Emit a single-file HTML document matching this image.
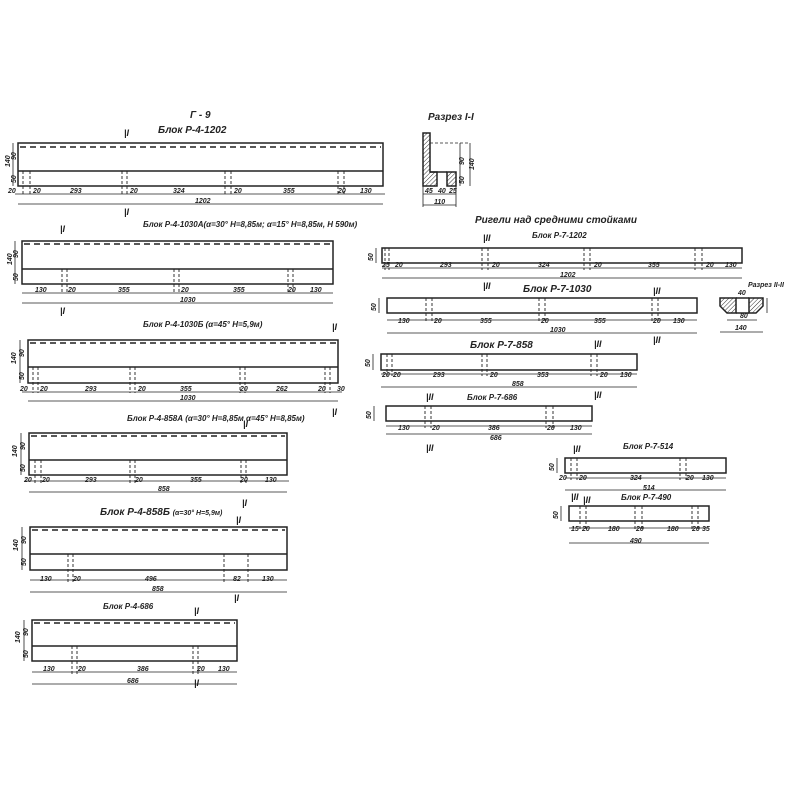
<!DOCTYPE html>
<html><head><meta charset="utf-8"><style>
html,body{margin:0;padding:0;background:#fff}
svg{display:block}
text{font-family:"Liberation Sans","DejaVu Sans",sans-serif;font-style:italic;fill:#222}
.t{font-size:10px;font-weight:bold}
.s{font-size:7px;font-weight:bold}
.r{font-size:8px;font-weight:bold}
</style></head><body>
<svg width="800" height="800" viewBox="0 0 800 800" xmlns="http://www.w3.org/2000/svg">
<defs>
<pattern id="h" width="3" height="3" patternUnits="userSpaceOnUse" patternTransform="rotate(45)"><line x1="0" y1="0" x2="0" y2="3" stroke="#333" stroke-width="1"/></pattern>
</defs>
<g stroke="#222" stroke-width="1.5" fill="none">
<!-- B1 -->
<rect x="18" y="143" width="365" height="43"/><line x1="18" y1="171" x2="383" y2="171"/>
<line x1="20" y1="147" x2="381" y2="147" stroke-dasharray="6,4"/>
<line x1="15" y1="194" x2="385" y2="194" stroke-width=".8"/><line x1="18" y1="204" x2="383" y2="204" stroke-width=".8"/>
<g stroke-dasharray="3,2" stroke-width=".9"><path d="M23 171V196M30 171V196M122 171V196M127 171V196M225 171V196M231 171V196M338 171V196M344 171V196"/></g>
<line x1="13" y1="143" x2="13" y2="186" stroke-width=".8"/>
<!-- B2 -->
<rect x="22" y="241" width="311" height="43"/><line x1="22" y1="269" x2="333" y2="269"/>
<line x1="24" y1="244" x2="331" y2="244" stroke-dasharray="6,4"/>
<line x1="22" y1="293" x2="333" y2="293" stroke-width=".8"/><line x1="22" y1="303" x2="333" y2="303" stroke-width=".8"/>
<g stroke-dasharray="3,2" stroke-width=".9"><path d="M62 269V294M67 269V294M174 269V294M179 269V294M288 269V294M293 269V294"/></g>
<line x1="15" y1="241" x2="15" y2="284" stroke-width=".8"/>
<!-- B3 -->
<rect x="28" y="340" width="310" height="43"/><line x1="28" y1="367" x2="338" y2="367"/>
<line x1="30" y1="343" x2="336" y2="343" stroke-dasharray="6,4"/>
<line x1="22" y1="392" x2="342" y2="392" stroke-width=".8"/><line x1="28" y1="401" x2="338" y2="401" stroke-width=".8"/>
<g stroke-dasharray="3,2" stroke-width=".9"><path d="M33 367V393M38 367V393M130 367V393M135 367V393M240 367V393M245 367V393M325 367V393M330 367V393"/></g>
<line x1="20" y1="340" x2="20" y2="383" stroke-width=".8"/>
<!-- B4 -->
<rect x="29" y="433" width="258" height="42"/><line x1="29" y1="460" x2="287" y2="460"/>
<line x1="31" y1="436" x2="285" y2="436" stroke-dasharray="6,4"/>
<line x1="25" y1="481" x2="289" y2="481" stroke-width=".8"/><line x1="29" y1="492" x2="287" y2="492" stroke-width=".8"/>
<g stroke-dasharray="3,2" stroke-width=".9"><path d="M35 460V483M41 460V483M130 460V483M135 460V483M241 460V483M246 460V483"/></g>
<line x1="21" y1="433" x2="21" y2="475" stroke-width=".8"/>
<!-- B5 -->
<rect x="30" y="527" width="257" height="43"/><line x1="30" y1="554" x2="287" y2="554"/>
<line x1="32" y1="530" x2="285" y2="530" stroke-dasharray="6,4"/>
<line x1="30" y1="580" x2="287" y2="580" stroke-width=".8"/><line x1="30" y1="592" x2="287" y2="592" stroke-width=".8"/>
<g stroke-dasharray="3,2" stroke-width=".9"><path d="M68 554V582M73 554V582M224 554V582M248 554V582"/></g>
<line x1="22" y1="527" x2="22" y2="570" stroke-width=".8"/>
<!-- B6 -->
<rect x="32" y="620" width="205" height="41"/><line x1="32" y1="646" x2="237" y2="646"/>
<line x1="34" y1="623" x2="235" y2="623" stroke-dasharray="6,4"/>
<line x1="32" y1="672" x2="237" y2="672" stroke-width=".8"/><line x1="32" y1="684" x2="237" y2="684" stroke-width=".8"/>
<g stroke-dasharray="3,2" stroke-width=".9"><path d="M72 646V674M77 646V674M193 646V674M198 646V674"/></g>
<line x1="24" y1="620" x2="24" y2="661" stroke-width=".8"/>
<!-- R1 -->
<rect x="382" y="248" width="360" height="15"/>
<line x1="382" y1="268" x2="742" y2="268" stroke-width=".8"/><line x1="382" y1="278" x2="742" y2="278" stroke-width=".8"/>
<g stroke-dasharray="3,2" stroke-width=".9"><path d="M385 248V270M389 248V270M482 248V270M488 248V270M584 248V270M590 248V270M695 248V270M702 248V270"/></g>
<line x1="376" y1="248" x2="376" y2="263" stroke-width=".8"/>
<!-- R2 -->
<rect x="387" y="298" width="310" height="15"/>
<line x1="387" y1="320" x2="697" y2="320" stroke-width=".8"/><line x1="387" y1="333" x2="697" y2="333" stroke-width=".8"/>
<g stroke-dasharray="3,2" stroke-width=".9"><path d="M426 298V322M432 298V322M539 298V322M545 298V322M652 298V322M658 298V322"/></g>
<line x1="379" y1="298" x2="379" y2="313" stroke-width=".8"/>
<!-- R3 -->
<rect x="381" y="354" width="256" height="16"/>
<line x1="381" y1="374" x2="637" y2="374" stroke-width=".8"/><line x1="381" y1="387" x2="637" y2="387" stroke-width=".8"/>
<g stroke-dasharray="3,2" stroke-width=".9"><path d="M387 354V376M392 354V376M482 354V376M487 354V376M591 354V376M597 354V376"/></g>
<line x1="373" y1="354" x2="373" y2="370" stroke-width=".8"/>
<!-- R4 -->
<rect x="386" y="406" width="206" height="15"/>
<line x1="386" y1="426" x2="592" y2="426" stroke-width=".8"/><line x1="386" y1="434" x2="592" y2="434" stroke-width=".8"/>
<g stroke-dasharray="3,2" stroke-width=".9"><path d="M425 406V428M431 406V428M546 406V428M553 406V428"/></g>
<line x1="374" y1="406" x2="374" y2="421" stroke-width=".8"/>
<!-- R5 -->
<rect x="565" y="458" width="161" height="15"/>
<line x1="565" y1="478" x2="726" y2="478" stroke-width=".8"/><line x1="565" y1="490" x2="726" y2="490" stroke-width=".8"/>
<g stroke-dasharray="3,2" stroke-width=".9"><path d="M571 458V480M577 458V480M680 458V480M686 458V480"/></g>
<line x1="557" y1="458" x2="557" y2="473" stroke-width=".8"/>
<!-- R6 -->
<rect x="569" y="506" width="140" height="15"/>
<line x1="569" y1="528" x2="709" y2="528" stroke-width=".8"/><line x1="569" y1="543" x2="709" y2="543" stroke-width=".8"/>
<g stroke-dasharray="3,2" stroke-width=".9"><path d="M580 506V530M586 506V530M635 506V530M642 506V530M692 506V530M698 506V530"/></g>
<line x1="561" y1="506" x2="561" y2="521" stroke-width=".8"/>
<!-- Section I-I -->
<path d="M423 133H430V172H437V186H423Z" fill="url(#h)"/>
<rect x="447" y="172" width="9" height="14" fill="url(#h)"/>
<line x1="430" y1="172" x2="447" y2="172"/>
<line x1="430" y1="143" x2="470" y2="143" stroke-dasharray="3,2" stroke-width=".8"/>
<line x1="460" y1="143" x2="460" y2="186" stroke-width=".8"/><line x1="470" y1="143" x2="470" y2="186" stroke-width=".8"/>
<line x1="423" y1="194" x2="456" y2="194" stroke-width=".8"/><line x1="423" y1="205" x2="456" y2="205" stroke-width=".8"/>
<line x1="423" y1="186" x2="423" y2="207" stroke-width=".8"/><line x1="456" y1="186" x2="456" y2="207" stroke-width=".8"/>
<!-- Section II-II -->
<path d="M720 298H736V313H727L720 306Z" fill="url(#h)"/>
<path d="M749 298H763V306L756 313H749Z" fill="url(#h)"/>
<line x1="736" y1="298" x2="749" y2="298"/><line x1="736" y1="313" x2="749" y2="313"/>
<line x1="727" y1="320" x2="757" y2="320" stroke-width=".8"/><line x1="720" y1="332" x2="763" y2="332" stroke-width=".8"/>
<line x1="767" y1="298" x2="767" y2="313" stroke-width=".8"/>
</g>
<!-- titles -->
<text class="t" x="190" y="118">Г - 9</text>
<text class="t" x="158" y="133">Блок Р-4-1202</text>
<text class="r" x="143" y="227">Блок Р-4-1030А(α=30° H=8,85м; α=15° H=8,85м, H 590м)</text>
<text class="r" x="143" y="327">Блок Р-4-1030Б (α=45° H=5,9м)</text>
<text class="r" x="127" y="421">Блок Р-4-858А (α=30° H=8,85м α=45° H=8,85м)</text>
<text class="t" x="100" y="515">Блок Р-4-858Б <tspan class="s">(α=30° H=5,9м)</tspan></text>
<text class="r" x="103" y="609">Блок Р-4-686</text>
<text class="t" x="428" y="120">Разрез I-I</text>
<text class="t" x="475" y="223">Ригели над средними стойками</text>
<text class="r" x="532" y="238">Блок Р-7-1202</text>
<text class="t" x="523" y="292">Блок Р-7-1030</text>
<text class="s" x="748" y="287">Разрез II-II</text>
<text class="t" x="470" y="348">Блок Р-7-858</text>
<text class="r" x="467" y="400">Блок Р-7-686</text>
<text class="r" x="623" y="449">Блок Р-7-514</text>
<text class="r" x="621" y="500">Блок Р-7-490</text>
<!-- section marks -->
<g font-size="9" font-weight="bold">
<text x="124" y="136">|I</text><text x="124" y="215">|I</text>
<text x="60" y="232">|I</text><text x="60" y="314">|I</text>
<text x="332" y="330">|I</text><text x="332" y="415">|I</text>
<text x="243" y="427">|I</text><text x="242" y="506">|I</text>
<text x="236" y="523">|I</text><text x="234" y="601">|I</text>
<text x="194" y="614">|I</text><text x="194" y="686">|I</text>
<text x="483" y="241">|II</text><text x="483" y="289">|II</text>
<text x="653" y="294">|II</text><text x="653" y="343">|II</text>
<text x="594" y="347">|II</text><text x="594" y="398">|II</text>
<text x="426" y="400">|II</text><text x="426" y="451">|II</text>
<text x="573" y="452">|II</text><text x="571" y="500">|II</text><text x="583" y="503">|II</text>
</g>
<!-- dim numbers -->
<g class="s">
<text x="8" y="193">20</text><text x="33" y="193">20</text><text x="70" y="193">293</text><text x="130" y="193">20</text><text x="173" y="193">324</text><text x="234" y="193">20</text><text x="283" y="193">355</text><text x="338" y="193">20</text><text x="360" y="193">130</text><text x="195" y="203">1202</text>
<text x="35" y="292">130</text><text x="68" y="292">20</text><text x="118" y="292">355</text><text x="181" y="292">20</text><text x="233" y="292">355</text><text x="288" y="292">20</text><text x="310" y="292">130</text><text x="180" y="302">1030</text>
<text x="20" y="391">20</text><text x="40" y="391">20</text><text x="85" y="391">293</text><text x="138" y="391">20</text><text x="180" y="391">355</text><text x="240" y="391">20</text><text x="276" y="391">262</text><text x="318" y="391">20</text><text x="337" y="391">30</text><text x="180" y="400">1030</text>
<text x="24" y="482">20</text><text x="42" y="482">20</text><text x="85" y="482">293</text><text x="135" y="482">20</text><text x="190" y="482">355</text><text x="240" y="482">20</text><text x="265" y="482">130</text><text x="158" y="491">858</text>
<text x="40" y="581">130</text><text x="73" y="581">20</text><text x="145" y="581">496</text><text x="233" y="581">82</text><text x="262" y="581">130</text><text x="152" y="591">858</text>
<text x="43" y="671">130</text><text x="78" y="671">20</text><text x="137" y="671">386</text><text x="197" y="671">20</text><text x="218" y="671">130</text><text x="127" y="683">686</text>
<text x="382" y="267">25</text><text x="395" y="267">20</text><text x="440" y="267">293</text><text x="492" y="267">20</text><text x="538" y="267">324</text><text x="594" y="267">20</text><text x="648" y="267">355</text><text x="706" y="267">20</text><text x="725" y="267">130</text><text x="560" y="277">1202</text>
<text x="398" y="323">130</text><text x="434" y="323">20</text><text x="480" y="323">355</text><text x="541" y="323">20</text><text x="594" y="323">355</text><text x="653" y="323">20</text><text x="673" y="323">130</text><text x="550" y="332">1030</text>
<text x="382" y="377">20</text><text x="393" y="377">20</text><text x="433" y="377">293</text><text x="490" y="377">20</text><text x="537" y="377">353</text><text x="600" y="377">20</text><text x="620" y="377">130</text><text x="512" y="386">858</text>
<text x="398" y="430">130</text><text x="432" y="430">20</text><text x="488" y="430">386</text><text x="547" y="430">20</text><text x="570" y="430">130</text><text x="490" y="440">686</text>
<text x="559" y="480">20</text><text x="579" y="480">20</text><text x="630" y="480">324</text><text x="686" y="480">20</text><text x="702" y="480">130</text><text x="643" y="490">514</text>
<text x="571" y="531">15</text><text x="582" y="531">20</text><text x="608" y="531">180</text><text x="636" y="531">20</text><text x="667" y="531">180</text><text x="692" y="531">20</text><text x="702" y="531">35</text><text x="630" y="543">490</text>
<text x="425" y="193">45</text><text x="438" y="193">40</text><text x="449" y="193">25</text><text x="434" y="204">110</text>
<text x="740" y="318">80</text><text x="735" y="330">140</text><text x="738" y="295">40</text>
</g>
<g class="s">
<text transform="translate(10,167) rotate(-90)">140</text><text transform="translate(16,160) rotate(-90)">90</text><text transform="translate(16,183) rotate(-90)">50</text>
<text transform="translate(12,265) rotate(-90)">140</text><text transform="translate(18,258) rotate(-90)">90</text><text transform="translate(18,281) rotate(-90)">50</text>
<text transform="translate(16,364) rotate(-90)">140</text><text transform="translate(24,357) rotate(-90)">90</text><text transform="translate(24,380) rotate(-90)">50</text>
<text transform="translate(17,457) rotate(-90)">140</text><text transform="translate(25,450) rotate(-90)">90</text><text transform="translate(25,472) rotate(-90)">50</text>
<text transform="translate(18,551) rotate(-90)">140</text><text transform="translate(26,544) rotate(-90)">90</text><text transform="translate(26,566) rotate(-90)">50</text>
<text transform="translate(20,643) rotate(-90)">140</text><text transform="translate(28,636) rotate(-90)">90</text><text transform="translate(28,658) rotate(-90)">50</text>
<text transform="translate(373,261) rotate(-90)">50</text><text transform="translate(376,311) rotate(-90)">50</text><text transform="translate(370,367) rotate(-90)">50</text><text transform="translate(371,419) rotate(-90)">50</text><text transform="translate(554,471) rotate(-90)">50</text><text transform="translate(558,519) rotate(-90)">50</text>
<text transform="translate(464,165) rotate(-90)">90</text><text transform="translate(474,170) rotate(-90)">140</text><text transform="translate(464,184) rotate(-90)">50</text>
</g>
</svg>
</body></html>
